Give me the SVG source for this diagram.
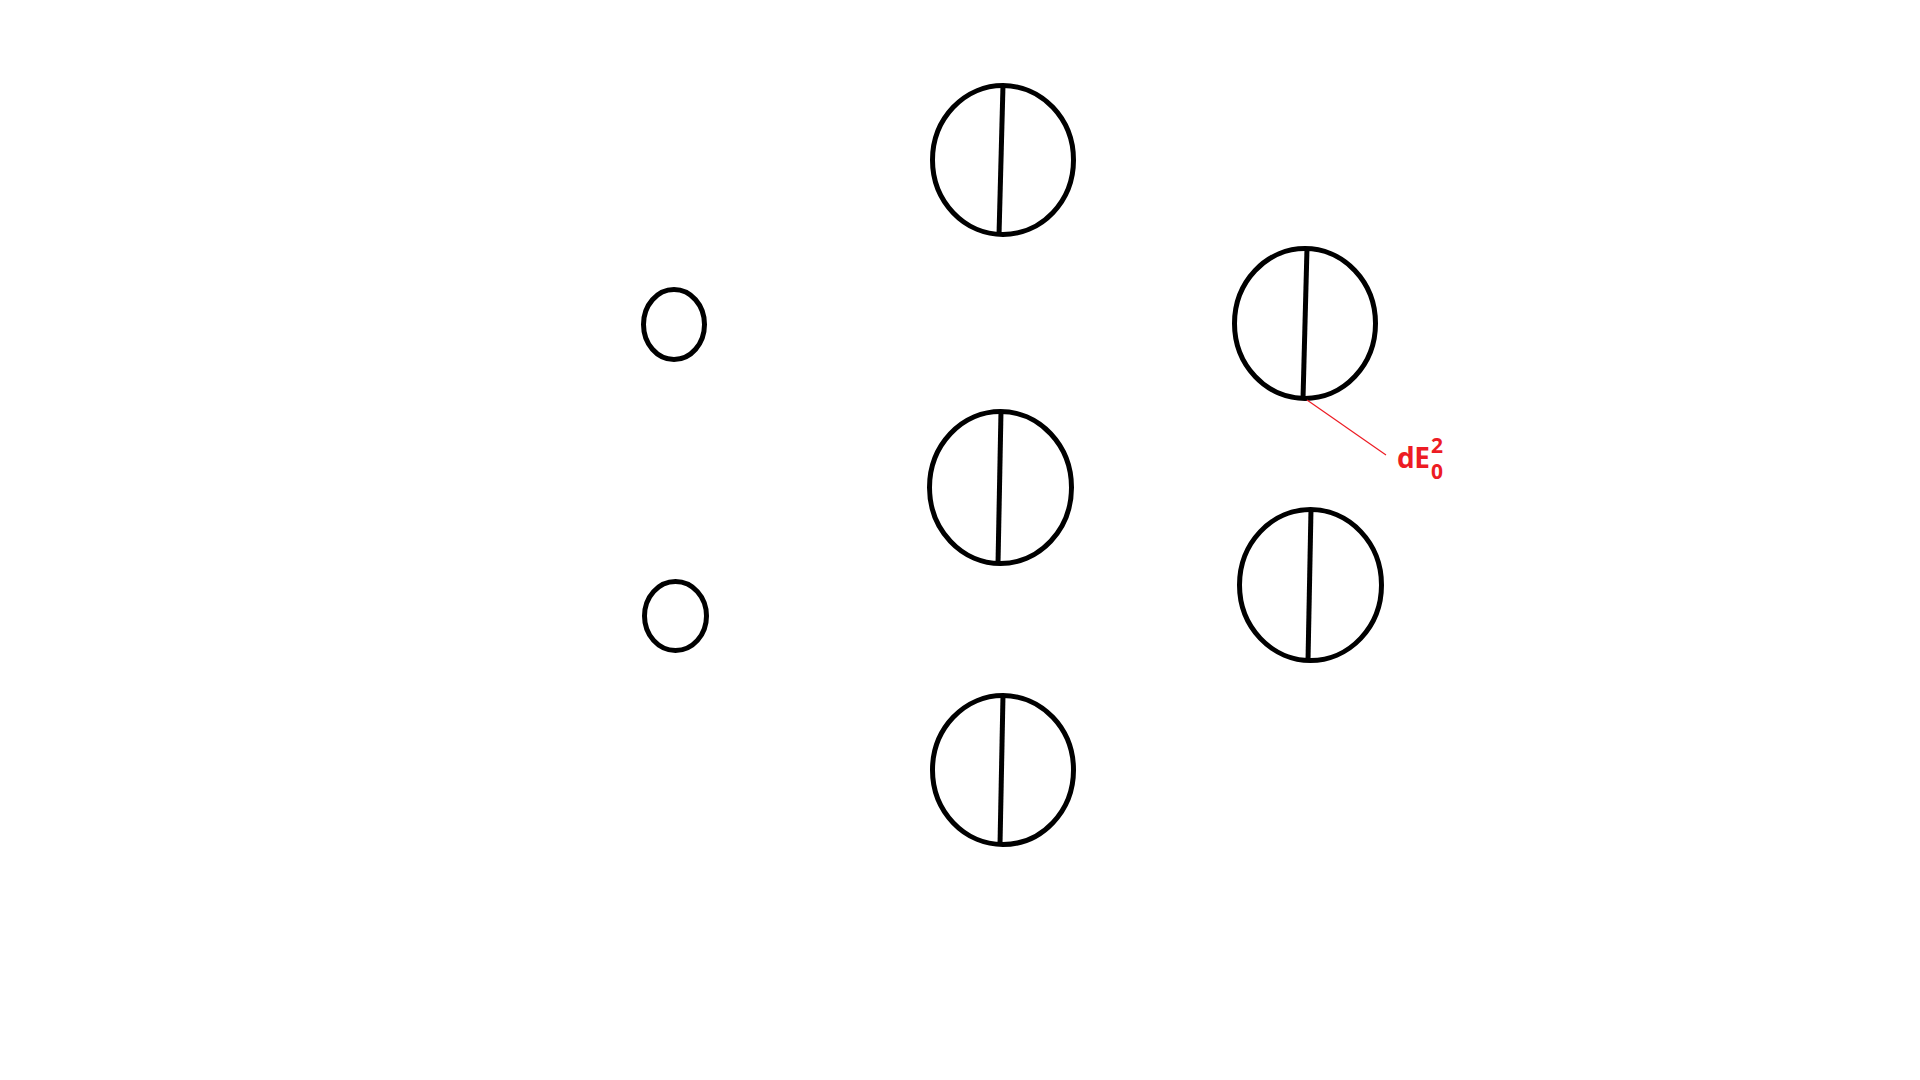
<svg xmlns="http://www.w3.org/2000/svg" width="1920" height="1080" viewBox="0 0 1920 1080">
<style>
.n{fill:none;stroke:#000;stroke-width:5}
.lbl{font-family:"Open Sans","Noto Sans",sans-serif;font-weight:bold;fill:#ed1c24}
</style>
<rect width="1920" height="1080" fill="#fff"/>
<g id="in1"><ellipse class="n" cx="674" cy="324.5" rx="30.5" ry="35"/></g>
<g id="in2"><ellipse class="n" cx="675.5" cy="616" rx="31" ry="34.5"/></g>
<g id="h1"><ellipse class="n" cx="1003" cy="160" rx="70.5" ry="74.5"/><line class="n" x1="1003" y1="85" x2="999" y2="235"/></g>
<g id="h2"><ellipse class="n" cx="1000.5" cy="487.5" rx="71" ry="76"/><line class="n" x1="1001" y1="411" x2="998" y2="564"/></g>
<g id="h3"><ellipse class="n" cx="1003" cy="770" rx="70.5" ry="74.5"/><line class="n" x1="1003" y1="695" x2="1000" y2="845"/></g>
<g id="o1"><ellipse class="n" cx="1305" cy="323.5" rx="70.5" ry="75"/><line class="n" x1="1307" y1="248" x2="1303" y2="399"/></g>
<g id="o2"><ellipse class="n" cx="1310.5" cy="585" rx="71" ry="75.5"/><line class="n" x1="1311" y1="509" x2="1308" y2="661"/></g>
<g id="connectors"><line x1="1307" y1="400" x2="1386" y2="455" stroke="#ed1c24" stroke-width="1.2"/></g>
<g id="label"><text class="lbl" x="1397" y="468" font-size="28" letter-spacing="-0.5">dE</text><text class="lbl" x="1431" y="453" font-size="21">2</text><text class="lbl" x="1431" y="479" font-size="21">0</text></g>
</svg>
